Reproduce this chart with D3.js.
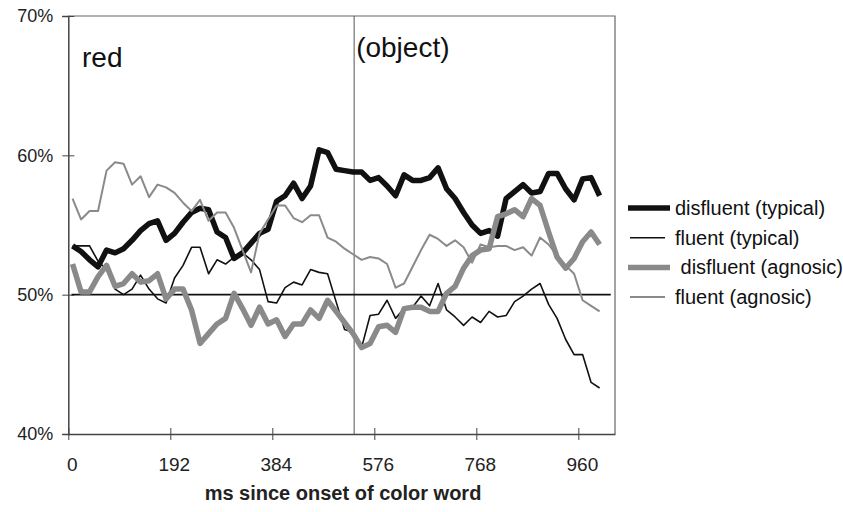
<!DOCTYPE html>
<html>
<head>
<meta charset="utf-8">
<script src="https://cdnjs.cloudflare.com/ajax/libs/d3/7.8.5/d3.min.js"></script>
<style>
  body { margin: 0; background: #fff; }
  svg { display: block; font-family: Arial, "Liberation Sans", sans-serif; }
</style>
</head>
<body>
<div id="chart"></div>
<script>
// ms after colour word onset (one bin every 16 ms)
let times = [8, 24, 40, 56, 72, 88, 104, 120, 136, 152, 168, 184, 200, 216, 232, 248,
    264, 280, 296, 312, 328, 344, 360, 376, 392, 408, 424, 440, 456, 472, 488, 504,
    520, 536, 552, 568, 584, 600, 616, 632, 648, 664, 680, 696, 712, 728, 744, 760,
    776, 792, 808, 824, 840, 856, 872, 888, 904, 920, 936, 952, 968, 984, 1000];

let disfluent_typical = [53.5, 53.1, 52.5, 52.0, 53.2, 53.0, 53.3, 53.9, 54.6, 55.1, 55.3, 53.9, 54.4, 55.2, 55.9, 56.2,
    56.1, 54.5, 54.1, 52.6, 53.0, 53.7, 54.4, 54.7, 56.7, 57.1, 58.0, 56.9, 57.8, 60.4, 60.2, 59.0,
    58.9, 58.8, 58.8, 58.2, 58.4, 57.8, 57.1, 58.6, 58.2, 58.2, 58.4, 59.1, 57.6, 56.9, 55.9, 55.0,
    54.4, 54.6, 54.2, 56.9, 57.4, 57.9, 57.3, 57.4, 58.7, 58.7, 57.6, 56.8, 58.3, 58.4, 57.1];

let fluent_typical = [53.5, 53.5, 53.5, 52.4, 51.8, 50.4, 50.0, 50.4, 51.4, 50.4, 49.7, 49.4, 51.2, 52.1, 53.4, 53.4,
    51.5, 52.5, 52.2, 52.7, 53.0, 52.5, 51.8, 49.5, 49.4, 50.5, 50.9, 50.7, 51.8, 51.6, 51.5, 49.5,
    47.5, 47.3, 46.2, 48.5, 48.6, 49.6, 48.3, 49.0, 49.1, 49.9, 49.2, 50.8, 48.9, 48.4, 47.8, 48.4,
    48.0, 48.8, 48.4, 48.5, 49.5, 49.9, 50.4, 50.8, 49.3, 48.3, 46.8, 45.7, 45.7, 43.7, 43.3];

let disfluent_agnosic = [52.2, 50.2, 50.2, 51.3, 52.1, 50.6, 50.8, 51.5, 50.9, 51.0, 51.5, 49.7, 50.4, 50.4, 48.9, 46.5,
    47.2, 47.9, 48.3, 50.1, 49.0, 47.8, 49.1, 47.9, 48.2, 47.0, 47.9, 47.9, 48.9, 48.3, 49.6, 48.8,
    48.0, 47.2, 46.2, 46.5, 47.7, 47.8, 47.3, 49.0, 49.1, 49.1, 48.8, 48.8, 50.1, 50.6, 51.9, 52.8,
    53.2, 53.3, 55.6, 55.8, 56.1, 55.6, 56.9, 56.4, 54.5, 52.7, 51.9, 52.6, 53.8, 54.5, 53.6];

let fluent_agnosic = [56.9, 55.4, 56.0, 56.0, 58.9, 59.5, 59.4, 57.9, 58.5, 57.0, 57.9, 57.7, 57.3, 56.6, 56.0, 56.8,
    55.3, 55.9, 55.9, 54.8, 53.2, 51.6, 54.4, 55.4, 56.4, 56.4, 55.5, 55.2, 55.7, 55.7, 54.1, 53.8,
    53.3, 52.9, 52.5, 52.7, 52.6, 52.2, 50.5, 50.8, 52.0, 53.2, 54.3, 54.0, 53.5, 53.9, 53.4, 52.3,
    53.6, 53.4, 53.5, 53.5, 53.2, 53.4, 52.8, 54.1, 53.6, 52.8, 52.1, 51.5, 49.6, 49.2, 48.8];

let x_ticks = [0, 192, 384, 576, 768, 960];
let y_ticks = [40, 50, 60, 70];
let series_names = ["disfluent (typical)", "fluent (typical)", " disfluent (agnosic)", "fluent (agnosic)"];
let object_onset = 538;   // vertical marker, ms
let chance = 50;

function drawChart(container) {
    let w = 843, h = 512;
    let svg = container.append("svg")
        .attr("width", w)
        .attr("height", h);

    let x = d3.scaleLinear().domain([0, 1029]).range([68.3, 615]);
    let y = d3.scaleLinear().domain([40, 70]).range([434, 16]);

    let styles = [
        {color: "#111", width: 5.5},
        {color: "#111", width: 1.6},
        {color: "#8a8a8a", width: 5.5},
        {color: "#8a8a8a", width: 2}
    ];
    let all_series = [disfluent_typical, fluent_typical, disfluent_agnosic, fluent_agnosic];

    // frame: top and right edges
    svg.append("path")
        .attr("d", `M${x(0)},${y(70)}H${x(1029)}V${y(40)}`)
        .attr("fill", "none")
        .attr("stroke", "#666")
        .attr("stroke-width", 1.2);

    // y axis
    let yAxis = svg.append("g")
        .attr("transform", `translate(${x(0)},0)`)
        .call(d3.axisLeft(y).tickValues(y_ticks).tickSize(6).tickFormat(d => d + "%"));
    yAxis.select(".domain").attr("stroke", "#444").attr("stroke-width", 1.5);
    yAxis.selectAll(".tick line").attr("stroke", "#444").attr("x2", 6).attr("x1", -6);
    yAxis.selectAll(".tick text")
        .attr("x", -15)
        .attr("font-size", 18)
        .attr("font-family", "Arial, 'Liberation Sans', sans-serif")
        .attr("fill", "#222");

    // x axis
    let xAxis = svg.append("g")
        .attr("transform", `translate(0,${y(40)})`)
        .call(d3.axisBottom(x).tickValues(x_ticks).tickSize(6).tickSizeOuter(0));
    xAxis.select(".domain").attr("stroke", "#444").attr("stroke-width", 1.5);
    xAxis.selectAll(".tick line").attr("stroke", "#444").attr("y1", -6).attr("y2", 6);
    xAxis.selectAll(".tick text")
        .attr("y", 24)
        .attr("dx", 3.5)
        .attr("font-size", 19)
        .attr("font-family", "Arial, 'Liberation Sans', sans-serif")
        .attr("fill", "#222");

    // object onset marker
    svg.append("line")
        .attr("x1", x(object_onset)).attr("x2", x(object_onset))
        .attr("y1", y(70)).attr("y2", y(40))
        .attr("stroke", "#555")
        .attr("stroke-width", 1);

    // 50% reference line
    svg.append("line")
        .attr("x1", x(6)).attr("x2", x(1021))
        .attr("y1", y(chance)).attr("y2", y(chance))
        .attr("stroke", "#111")
        .attr("stroke-width", 1.6);

    let line = d3.line()
        .x((d, i) => x(times[i]))
        .y(d => y(d));

    svg.selectAll("path.series")
        .data(all_series)
        .enter().append("path")
        .attr("class", "series")
        .attr("d", d => line(d))
        .attr("fill", "none")
        .attr("stroke", (d, i) => styles[i].color)
        .attr("stroke-width", (d, i) => styles[i].width)
        .attr("stroke-linejoin", "round");

    // in-plot labels
    svg.append("text")
        .attr("x", 82).attr("y", 67)
        .attr("font-size", 28)
        .attr("fill", "#111")
        .text("red");
    svg.append("text")
        .attr("x", x(object_onset) + 2).attr("y", 57)
        .attr("font-size", 28)
        .attr("fill", "#111")
        .text("(object)");

    // axis title
    svg.append("text")
        .attr("x", 343).attr("y", 500)
        .attr("text-anchor", "middle")
        .attr("font-size", 20)
        .attr("font-weight", "bold")
        .attr("fill", "#222")
        .text("ms since onset of color word");

    // legend
    let legend = svg.selectAll("g.legend")
        .data(series_names)
        .enter().append("g")
        .attr("class", "legend")
        .attr("transform", (d, i) => `translate(628,${208 + i * 29.7})`);
    legend.append("line")
        .attr("x1", (d, i) => styles[i].width > 3 ? 0 : 2)
        .attr("x2", (d, i) => styles[i].width > 3 ? 42 : 37)
        .attr("stroke", (d, i) => styles[i].color)
        .attr("stroke-width", (d, i) => styles[i].width);
    legend.append("text")
        .attr("x", 47)
        .attr("y", 7)
        .attr("font-size", 20)
        .attr("fill", "#111")
        .attr("xml:space", "preserve")
        .style("white-space", "pre")
        .text(d => d);
}

drawChart(d3.select("#chart"));
</script>
</body>
</html>
